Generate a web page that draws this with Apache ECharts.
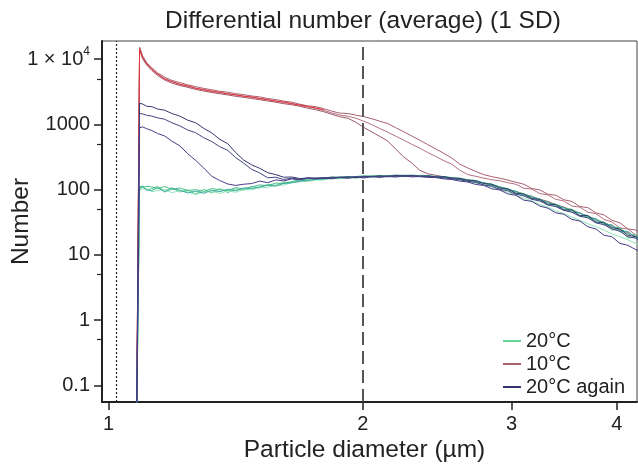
<!DOCTYPE html>
<html><head><meta charset="utf-8">
<script src="https://cdn.jsdelivr.net/npm/echarts@6/dist/echarts.min.js"></script>
<style>html,body{margin:0;padding:0;background:#fff}#c{width:638px;height:468px}</style>
</head><body><div id="c"></div>
<script>
// Particle diameters (µm)
const diameters = [1.079,1.088,1.097,1.109,1.125,1.143,1.165,1.188,1.214,1.241,1.268,1.296,1.325,1.354,1.384,1.414,1.445,1.477,1.510,1.543,1.577,1.612,1.648,1.684,1.721,1.759,1.798,1.838,1.878,1.920,1.962,2.005,2.050,2.095,2.141,2.188,2.237,2.286,2.336,2.388,2.441,2.495,2.550,2.606,2.663,2.722,2.782,2.844,2.906,2.970,3.036,3.103,3.172,3.242,3.313,3.386,3.461,3.537,3.615,3.695,3.777,3.860,3.945,4.032,4.121,4.212,4.305];

const xTickValues = [1, 2, 3, 4];
const yTickValues = [0.1, 1, 10, 100, 1000, 10000];
const yMinorTickValues = [0.5, 5, 50, 500, 5000];
const refLineDotted = 1.023;
const refLineDashed = 2.0;

// 20°C
const g1 = [0.02,106,115,98,104,112,95,108,92,99,86,101,89,104,90,103,98,112,106,121,116,130,128,137,140,145,147,151,152,155,153,159,156,161,158,164,160,164,159,162,156,157,149,148,138,135,123,119,105,101,87,84,72,70,59,58,48,48,39,39,31,31,24,25,18,19,15];
const g2 = [0.02,98,102,104,93,97,101,90,96,93,84,92,95,87,96,91,101,99,109,108,118,117,129,132,134,140,141,147,147,151,150,154,154,157,156,159,158,160,157,157,154,151,146,141,134,127,118,110,100,91,82,74,67,59,54,47,43,38,34,30,27,24,21,19,17,15,13];
const g3 = [0.02,114,108,112,110,103,112,101,106,97,100,94,104,99,97,107,103,110,118,115,126,124,133,142,145,150,151,156,156,159,159,163,162,165,164,167,166,167,164,164,160,159,153,150,142,138,127,122,110,104,92,87,76,72,63,60,52,50,43,40,34,32,27,26,21,20,17];
const g4 = [0.02,102,111,99,97,108,92,103,98,89,95,88,98,93,101,96,106,104,110,117,113,125,127,135,138,143,145,150,151,154,154,158,157,160,159,163,161,163,161,160,158,154,151,144,141,132,127,116,111,99,95,82,79,67,65,55,53,45,44,37,36,29,29,23,23,18,17];

// 10°C
const r1 = [0.02,15300,11300,8900,7400,6150,5300,4730,4380,4030,3800,3560,3400,3220,3120,2960,2860,2730,2640,2490,2410,2280,2190,2040,1930,1870,1740,1595,1490,1470,1385,1320,1220,1120,1030,890,770,665,572,490,420,360,305,245,215,190,170,158,150,140,130,121,104,99,85,82,70,66,55,53,44,41,34,31,25,24,20];
const r2 = [0.02,14700,10700,8500,7050,5850,5050,4500,4150,3850,3620,3380,3240,3080,2970,2820,2730,2600,2510,2380,2300,2170,2100,1950,1860,1760,1640,1500,1390,1335,1245,1120,990,865,760,660,572,495,432,370,322,278,245,198,170,160,150,142,137,128,121,105,102,87,83,71,67,56,54,45,43,35,32,26,25,20,18];
const r3 = [0.02,14100,10200,8150,6700,5600,4800,4300,3950,3700,3440,3250,3080,2950,2830,2700,2600,2500,2390,2290,2190,2080,2000,1900,1770,1680,1565,1430,1310,1245,1080,900,765,655,555,418,315,256,198,175,166,157,150,146,141,133,127,118,110,101,94,85,79,71,66,59,54,48,44,39,35,31,28,24,22,19,17];
const rMean = [0.02,14500,10500,8600,6950,5950,4950,4560,4100,3900,3560,3420,3200,3110,2930,2850,2700,2640,2480,2410,2270,2200,2070,1990,1880,1790,1680];

// 20°C again
const n1 = [0.02,2100,2060,1900,1870,1720,1650,1470,1340,1160,1060,870,740,590,505,370,285,240,212,182,170,155,156,148,150,151,149,155,153,157,152,160,158,163,158,166,161,165,160,163,156,158,150,149,139,137,124,121,106,103,88,86,73,71,60,59,49,49,40,40,32,31,26,25,20,19,16];
const n2 = [0.02,1470,1450,1380,1340,1260,1200,1060,950,820,745,625,545,455,400,310,255,205,180,152,155,143,150,145,152,148,153,150,156,154,158,155,161,157,163,160,165,162,162,158,157,152,147,142,134,129,118,113,101,96,85,80,71,67,58,55,48,45,39,37,31,29,25,23,19,18,14];
const n3 = [0.02,890,915,860,805,725,665,555,470,355,280,215,160,138,122,116,121,124,135,128,141,136,146,141,150,146,152,147,154,149,157,151,159,154,160,156,162,157,159,154,153,146,143,135,131,120,116,103,99,86,82,69,66,56,52,44,42,35,33,27,25,20,19,15,14,12,11];

const FONT = "'Liberation Sans', Arial, Helvetica, sans-serif";
const GREEN = '#66d49a', MAUVE = '#a8606e', NAVY = '#34346e';

const groups = [
  {name: '10°C', color: '#a8606e', values: r1},
  {name: '10°C', color: '#b27080', values: r2},
  {name: '10°C', color: '#9c5868', values: r3},
  {name: '10°C', color: '#e8323c', values: rMean},
  {name: '20°C', color: '#5ccf8e', values: g1},
  {name: '20°C', color: '#8fe3b8', values: g2},
  {name: '20°C', color: '#46bf86', values: g3},
  {name: '20°C', color: '#3aa8a0', values: g4},
  {name: '20°C again', color: '#36366f', values: n1},
  {name: '20°C again', color: '#42447f', values: n2},
  {name: '20°C again', color: '#4a3a88', values: n3}
];

const series = groups.map((g, k) => {
  const s = {
    type: 'line', name: g.name, showSymbol: false, symbol: 'none', silent: true, clip: true,
    lineStyle: {width: 1, color: g.color}, itemStyle: {color: g.color},
    data: g.values.map((v, i) => [diameters[i], v]), z: 2 + k * 0.01
  };
  if (k === 0) {
    s.markLine = {
      silent: true, symbol: ['none', 'none'], label: {show: false}, animation: false,
      data: [
        {xAxis: refLineDotted, lineStyle: {type: [2, 2], color: '#222', width: 1.2}},
        {xAxis: refLineDashed, lineStyle: {type: [13, 6], color: '#555', width: 2}}
      ]
    };
  }
  return s;
});

function yFmt(v) {
  const e = Math.round(Math.log10(v));
  if (e >= 4) return '1 × 10{s|' + e + '}';
  if (e < 0) return '0.1';
  return String(Math.pow(10, e));
}

const chart = echarts.init(document.getElementById('c'), null, {renderer: 'canvas'});
chart.setOption({
  animation: false,
  title: {text: 'Differential number (average) (1 SD)', left: 160, top: 4,
    textStyle: {fontFamily: FONT, fontSize: 24.5, fontWeight: 'normal', color: '#222'}},
  grid: {left: 102, right: 1, top: 41, bottom: 66, show: true, borderColor: '#444', borderWidth: 1,
    containLabel: false, outerBoundsMode: 'none'},
  legend: {
    orient: 'vertical', left: 498, top: 326, itemWidth: 18, itemHeight: 2, itemGap: 3, icon: 'rect',
    selectedMode: false,
    textStyle: {fontFamily: FONT, fontSize: 20, color: '#222'},
    data: [
      {name: '20°C', itemStyle: {color: GREEN}},
      {name: '10°C', itemStyle: {color: MAUVE}},
      {name: '20°C again', itemStyle: {color: NAVY}}
    ]
  },
  xAxis: {
    type: 'log', min: 0.982, max: 4.225,
    name: 'Particle diameter (µm)', nameLocation: 'middle', nameGap: 36, nameMoveOverlap: false,
    nameTextStyle: {fontFamily: FONT, fontSize: 24.5, color: '#222', padding: [0, 10, 0, 0]},
    axisLine: {show: true, onZero: false, lineStyle: {color: '#222', width: 2}},
    axisTick: {show: true, length: 8, customValues: xTickValues, lineStyle: {color: '#222', width: 1.5}},
    axisLabel: {customValues: xTickValues, margin: 12, fontSize: 20, color: '#222', fontFamily: FONT,
      formatter: v => String(Math.round(v))},
    splitLine: {show: false}, minorTick: {show: false}
  },
  yAxis: [
    {
      type: 'log', min: 0.0555, max: 19000, position: 'left',
      name: 'Number', nameLocation: 'middle', nameGap: 68, nameRotate: 90, nameMoveOverlap: false,
      nameTextStyle: {fontFamily: FONT, fontSize: 24.5, color: '#222'},
      axisLine: {show: true, onZero: false, lineStyle: {color: '#222', width: 2}},
      axisTick: {show: true, length: 8, customValues: yTickValues, lineStyle: {color: '#222', width: 1.5}},
      axisLabel: {customValues: yTickValues, margin: 12, fontSize: 20, color: '#222', fontFamily: FONT,
        formatter: yFmt,
        rich: {s: {fontSize: 12, fontFamily: FONT, color: '#222', padding: [0, 0, 14, 0]}}},
      splitLine: {show: false}
    },
    {
      type: 'log', min: 0.0555, max: 19000, position: 'left',
      axisLine: {show: false},
      axisTick: {show: true, length: 5, customValues: yMinorTickValues, lineStyle: {color: '#222', width: 1.2}},
      axisLabel: {show: false}, splitLine: {show: false}
    }
  ],
  series: series
});
</script></body></html>
